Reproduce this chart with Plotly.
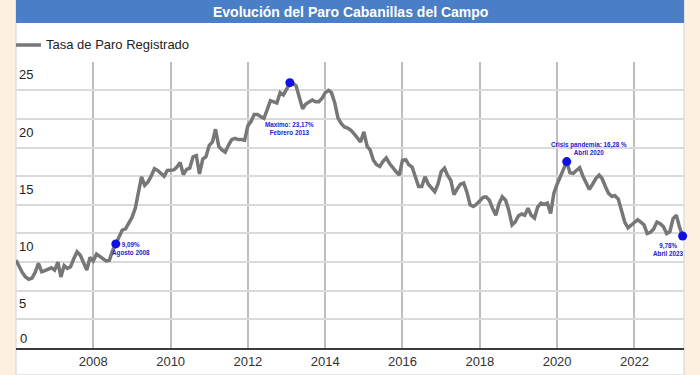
import pandas as pd
import plotly.graph_objects as go

# Monthly registered unemployment rate (%), Jan 2006 .. Apr 2023
tasa_paro = [
    7.67, 7.1, 6.6, 6.2, 6.0, 6.1, 6.6, 7.4, 6.65, 6.75, 6.9, 7.0,          # 2006
    6.8, 7.5, 6.2, 7.2, 6.95, 7.1, 7.8, 8.4, 8.1, 7.5, 6.8, 7.9,            # 2007
    7.6, 8.2, 8.0, 7.8, 7.6, 7.65, 8.5, 9.09, 9.7, 10.3, 10.4, 10.85,       # 2008
    11.4, 12.2, 13.4, 14.95, 14.2, 14.5, 15.0, 15.65, 15.5, 15.2, 15.0, 15.5,  # 2009
    15.5, 15.55, 15.8, 16.2, 15.15, 15.6, 15.7, 16.7, 16.8, 15.2, 16.5, 16.7,  # 2010
    17.7, 18.0, 19.1, 17.6, 17.3, 17.1, 17.7, 18.2, 18.3, 18.2, 18.2, 18.15,   # 2011
    19.4, 19.8, 20.4, 20.4, 20.2, 20.05, 20.8, 21.6, 21.5, 21.4, 22.3, 22.1,   # 2012
    22.6, 23.17, 23.1, 22.9, 21.9, 20.9, 21.3, 21.5, 21.65, 21.5, 21.5, 21.8,  # 2013
    22.3, 22.5, 22.3, 21.4, 20.1, 19.6, 19.3, 19.2, 19.0, 18.7, 18.4, 18.0,    # 2014
    18.88, 17.6, 17.3, 16.4, 16.0, 15.85, 16.3, 16.6, 16.1, 15.7, 15.4, 15.1,  # 2015
    16.4, 16.45, 16.0, 15.8, 14.9, 14.1, 14.1, 14.95, 14.3, 14.0, 13.65, 14.3, # 2016
    15.4, 15.7, 15.1, 14.65, 13.4, 13.9, 14.3, 14.4, 13.6, 12.5, 12.35, 12.55, # 2017
    12.9, 13.15, 13.2, 12.9, 12.2, 11.6, 12.6, 13.2, 12.9, 12.04, 10.75, 11.0, # 2018
    11.55, 11.7, 11.6, 12.2, 11.6, 11.35, 12.3, 12.65, 12.55, 12.65, 11.75, 13.5,  # 2019
    14.3, 14.95, 15.6, 16.28, 15.3, 15.25, 15.5, 15.75, 15.0, 14.4, 13.85, 14.3,   # 2020
    14.8, 15.1, 14.8, 14.1, 13.5, 13.25, 13.3, 13.0, 12.1, 11.0, 10.5, 10.7,   # 2021
    10.9, 11.2, 11.0, 10.75, 10.0, 10.1, 10.4, 11.0, 10.85, 10.6, 10.0, 10.15, # 2022
    11.3, 11.6, 10.6, 9.78,                                                    # 2023
]
fechas = pd.date_range("2006-01-01", periods=len(tasa_paro), freq="MS")

hito_fechas = ["2008-08-01", "2013-02-01", "2020-04-01", "2023-04-01"]
hito_valores = [9.09, 23.17, 16.28, 9.78]
hito_textos = ["9,09%<br>Agosto 2008", "Maximo: 23,17%<br>Febrero 2013",
               "Crisis pandemia: 16,28 %<br>Abril 2020", "9,78%<br>Abril 2023"]
hito_desplaz = [(15, -5), (0, -46), (22, 13), (-14, -13)]

x_ticks = ["2008-01-01", "2010-01-01", "2012-01-01", "2014-01-01",
           "2016-01-01", "2018-01-01", "2020-01-01", "2022-01-01"]
x_tick_labels = ["2008", "2010", "2012", "2014", "2016", "2018", "2020", "2022"]
y_ticks = [2.5, 5, 7.5, 10, 12.5, 15, 17.5, 20, 22.5, 25]
y_tick_labels = ["", "5", "", "10", "", "15", "", "20", "", "25"]

titulo = "Evolución del Paro Cabanillas del Campo"
serie = "Tasa de Paro Registrado"

FONT = "Liberation Sans, Arial, sans-serif"
H = 348.0  # paper height in px (t=0, b=27)
def py(Y):
    return (H - Y) / H

fig = go.Figure()
fig.add_trace(go.Scatter(x=fechas, y=tasa_paro, mode="lines", name=serie,
                         line=dict(color="#777777", width=3.5), showlegend=False,
                         hoverinfo="x+y"))
fig.add_trace(go.Scatter(x=hito_fechas, y=hito_valores, mode="markers",
                         marker=dict(color="#1010e6", size=9), showlegend=False,
                         cliponaxis=False))

for f, v, t, (dx, dy) in zip(hito_fechas, hito_valores, hito_textos, hito_desplaz):
    fig.add_annotation(x=f, y=v, text=t, showarrow=False, xshift=dx, yshift=dy,
                       xanchor="center", yanchor="middle", align="center",
                       font=dict(family=FONT, size=6.3, color="#1a1acc", weight="bold"))

# panel, title bar, legend
fig.add_shape(type="rect", xref="paper", yref="paper", x0=0, x1=1, y0=-27 / H, y1=1,
              fillcolor="white", line=dict(color="#d2d2d2", width=1), layer="below")
fig.add_shape(type="rect", xref="paper", yref="paper", x0=0, x1=1, y0=py(23), y1=1,
              fillcolor="#4a7ec6", line=dict(width=0), layer="above")
fig.add_annotation(x=0.5, y=py(11.5), xref="paper", yref="paper", text=titulo,
                   showarrow=False, xanchor="center", yanchor="middle",
                   font=dict(family=FONT, size=14, color="white", weight="bold"))
fig.add_shape(type="line", xref="paper", yref="paper", x0=0, x1=25 / 668,
              y0=py(45), y1=py(45), line=dict(color="#777777", width=3.5))
fig.add_annotation(x=28 / 668, y=py(45), xref="paper", yref="paper", text=serie,
                   showarrow=False, xanchor="left", yanchor="middle",
                   font=dict(family=FONT, size=13, color="#222"))
fig.add_annotation(x=0, y=0, xref="paper", yref="y", text="0", showarrow=False,
                   xanchor="left", yanchor="bottom", xshift=2, yshift=0,
                   font=dict(family=FONT, size=13, color="#222"))

fig.update_layout(
    width=700, height=375,
    margin=dict(l=16, r=16, t=0, b=27),
    paper_bgcolor="#fdf0e1", plot_bgcolor="white",
    xaxis=dict(type="date", range=["2006-01-01", "2023-04-14"],
               tickvals=x_ticks, ticktext=x_tick_labels,
               showgrid=True, gridcolor="#bdbdbd", gridwidth=2,
               showline=True, linecolor="#3a3a3a", linewidth=2,
               ticks="", tickfont=dict(family=FONT, size=13, color="#333"),
               zeroline=False, fixedrange=True),
    yaxis=dict(range=[0, 25], domain=[0, (H - 61.7) / H],
               tickvals=y_ticks, ticktext=y_tick_labels,
               ticklabelposition="inside", ticklabelshift=13,
               showgrid=True, gridcolor="#dadada", gridwidth=2,
               ticks="", tickfont=dict(family=FONT, size=13, color="#222"),
               zeroline=False, showline=False, fixedrange=True),
)

fig.write_html("out.html", config={"displayModeBar": False},
               post_script="document.body.style.margin='0';document.body.style.padding='0';"
                           "document.body.style.background='#fdf0e1';")
